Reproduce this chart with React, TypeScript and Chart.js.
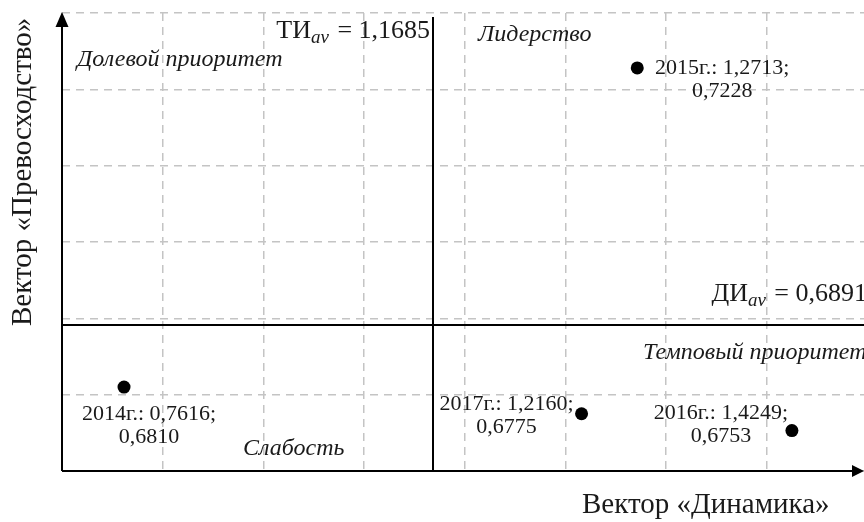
import React, { useEffect, useRef } from "react";
import { Chart, registerables } from "chart.js";

Chart.register(...registerables);

// ---- data ----
const YEARS = ["2014г.", "2015г.", "2016г.", "2017г."];
const DYNAMICS = [0.7616, 1.2713, 1.4249, 1.216];
const EXCELLENCE = [0.681, 0.7228, 0.6753, 0.6775];
const TI_AV_LABEL = "1,1685";
const DI_AV = 0.6891;
const DI_AV_LABEL = "0,6891";
// where the vertical reference line is drawn in the source figure
const TI_LINE_X = 1.0685;
const QUADRANTS = ["Долевой приоритет", "Лидерство", "Темповый приоритет", "Слабость"];
const X_TITLE = "Вектор «Динамика»";
const Y_TITLE = "Вектор «Превосходство»";
const X_MIN = 0.7;
const X_MAX = 1.4965;
const X_STEP = 0.1;
const Y_MIN = 0.67;
const Y_MAX = 0.73;
const Y_STEP = 0.01;

// ---- styles ----
const SERIF = "'Liberation Serif', 'Times New Roman', serif";
const LABEL_OFFSETS: [number, number][] = [
  [25, 27],
  [85, 0],
  [-71, -17],
  [-75, -10],
];
const QUAD_POS: [number, number][] = [
  [15, 47],
  [416, 22],
  [581, 340],
  [181, 436],
];

const fmt = (v: number) => v.toFixed(4).replace(".", ",");

const overlay = {
  id: "overlay",
  beforeDatasetsDraw(chart: any) {
    const { ctx, chartArea: a, scales } = chart;
    const x = scales.x;
    const y = scales.y;
    ctx.save();
    ctx.strokeStyle = "#000";
    ctx.fillStyle = "#000";
    ctx.lineWidth = 2;
    const line = (x1: number, y1: number, x2: number, y2: number) => {
      ctx.beginPath();
      ctx.moveTo(x1, y1);
      ctx.lineTo(x2, y2);
      ctx.stroke();
    };
    const qx = Math.round(x.getPixelForValue(TI_LINE_X));
    const qy = Math.round(y.getPixelForValue(DI_AV));
    line(qx, a.top + 4, qx, a.bottom);
    line(a.left, qy, a.right, qy);
    // axes
    const ax = Math.round(a.left);
    const ay = Math.round(a.bottom);
    line(ax, ay, a.right - 8, ay);
    line(ax, ay, ax, a.top + 10);
    // arrowheads
    ctx.beginPath();
    ctx.moveTo(ax, a.top - 1);
    ctx.lineTo(ax - 6.5, a.top + 14);
    ctx.lineTo(ax + 6.5, a.top + 14);
    ctx.closePath();
    ctx.fill();
    ctx.beginPath();
    ctx.moveTo(a.right, ay);
    ctx.lineTo(a.right - 12, ay - 6);
    ctx.lineTo(a.right - 12, ay + 6);
    ctx.closePath();
    ctx.fill();
    ctx.restore();
  },
  afterDatasetsDraw(chart: any) {
    const { ctx, chartArea: a, scales } = chart;
    const x = scales.x;
    const y = scales.y;
    ctx.save();
    ctx.fillStyle = "#1a1a1a";
    // point labels
    const meta = chart.getDatasetMeta(0);
    ctx.font = `22px ${SERIF}`;
    ctx.textAlign = "center";
    ctx.textBaseline = "middle";
    meta.data.forEach((el: any, i: number) => {
      const [dx, dy] = LABEL_OFFSETS[i];
      const cx = el.x + dx;
      const cy = el.y + dy;
      ctx.fillText(`${YEARS[i]}: ${fmt(DYNAMICS[i])};`, cx, cy);
      ctx.fillText(fmt(EXCELLENCE[i]), cx, cy + 23);
    });
    // quadrant names
    ctx.font = `italic 24px ${SERIF}`;
    ctx.textAlign = "left";
    QUADRANTS.forEach((q, i) => {
      ctx.fillText(q, a.left + QUAD_POS[i][0], a.top + QUAD_POS[i][1]);
    });
    // reference labels
    const drawRef = (main: string, value: string, right: number, base: number) => {
      ctx.textBaseline = "alphabetic";
      ctx.font = `26px ${SERIF}`;
      const w1 = ctx.measureText(main).width;
      ctx.font = `italic 19px ${SERIF}`;
      const w2 = ctx.measureText("av").width;
      ctx.font = `26px ${SERIF}`;
      const tail = ` = ${value}`;
      const w3 = ctx.measureText(tail).width;
      let sx = right - (w1 + w2 + 2 + w3);
      ctx.fillText(main, sx, base);
      sx += w1;
      ctx.font = `italic 19px ${SERIF}`;
      ctx.fillText("av", sx, base + 5);
      sx += w2 + 2;
      ctx.font = `26px ${SERIF}`;
      ctx.fillText(tail, sx, base);
    };
    const qx = x.getPixelForValue(TI_LINE_X);
    const qy = y.getPixelForValue(DI_AV);
    drawRef("ТИ", TI_AV_LABEL, qx - 3, a.top + 25);
    drawRef("ДИ", DI_AV_LABEL, a.right + 3, qy - 24);
    // axis titles
    ctx.font = `29px ${SERIF}`;
    ctx.textBaseline = "alphabetic";
    ctx.textAlign = "left";
    ctx.fillText(X_TITLE, 582, a.bottom + 42);
    ctx.save();
    ctx.translate(31, a.top + 313);
    ctx.rotate(-Math.PI / 2);
    ctx.fillText(Y_TITLE, 0, 0);
    ctx.restore();
    ctx.restore();
  },
};

export default function App() {
  const ref = useRef<HTMLCanvasElement | null>(null);
  useEffect(() => {
    if (!ref.current) return;
    const points = DYNAMICS.map((v, i) => ({ x: v, y: EXCELLENCE[i] }));
    const chart = new Chart(ref.current, {
      type: "scatter",
      data: {
        datasets: [
          {
            data: points,
            pointRadius: 6.5,
            pointHoverRadius: 6.5,
            backgroundColor: "#000",
            borderWidth: 0,
          },
        ],
      },
      options: {
        responsive: false,
        animation: false,
        events: [],
        layout: { autoPadding: false, padding: { left: 62, top: 13, right: 0, bottom: 51 } },
        plugins: { legend: { display: false }, tooltip: { enabled: false } },
        scales: {
          x: {
            type: "linear",
            min: X_MIN,
            max: X_MAX,
            ticks: { display: false, stepSize: X_STEP, includeBounds: false },
            grid: { color: "#c4c4c4", lineWidth: 1.5, drawTicks: false, tickLength: 0 },
            border: { display: false, dash: [8, 6] },
            afterFit: (s: any) => {
              s.height = 0;
            },
          },
          y: {
            type: "linear",
            min: Y_MIN,
            max: Y_MAX,
            ticks: { display: false, stepSize: Y_STEP },
            grid: { color: "#c4c4c4", lineWidth: 1.5, drawTicks: false, tickLength: 0 },
            border: { display: false, dash: [8, 6] },
            afterFit: (s: any) => {
              s.width = 0;
            },
          },
        },
      },
      plugins: [overlay],
    });
    return () => chart.destroy();
  }, []);
  return (
    <div style={{ position: "fixed", left: 0, top: 0, width: 864, height: 522, background: "#fff" }}>
      <canvas ref={ref} width={864} height={522} style={{ width: 864, height: 522 }} />
    </div>
  );
}
